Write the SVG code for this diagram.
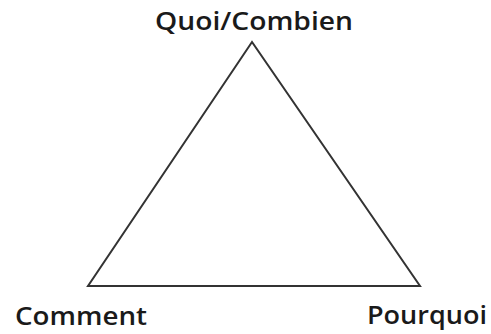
<svg xmlns="http://www.w3.org/2000/svg" width="491" height="334" viewBox="0 0 491 334">
<style>
.lbl{font-family:"Open Sans","DejaVu Sans",sans-serif;font-weight:600;font-size:26px;fill:#1a1a1a}
.edge{fill:none;stroke:#333;stroke-width:2;stroke-linejoin:miter}
</style>
<rect width="491" height="334" fill="#fff"/>
<g id="connectors">
<polygon class="edge" points="252,42 88,286 420,286"/>
</g>
<g id="node-quoi"><text class="lbl" x="155" y="30" textLength="198" lengthAdjust="spacingAndGlyphs">Quoi/Combien</text></g>
<g id="node-comment"><text class="lbl" x="15" y="325" textLength="132" lengthAdjust="spacingAndGlyphs">Comment</text></g>
<g id="node-pourquoi"><text class="lbl" x="367" y="324" textLength="120" lengthAdjust="spacingAndGlyphs">Pourquoi</text></g>
</svg>
